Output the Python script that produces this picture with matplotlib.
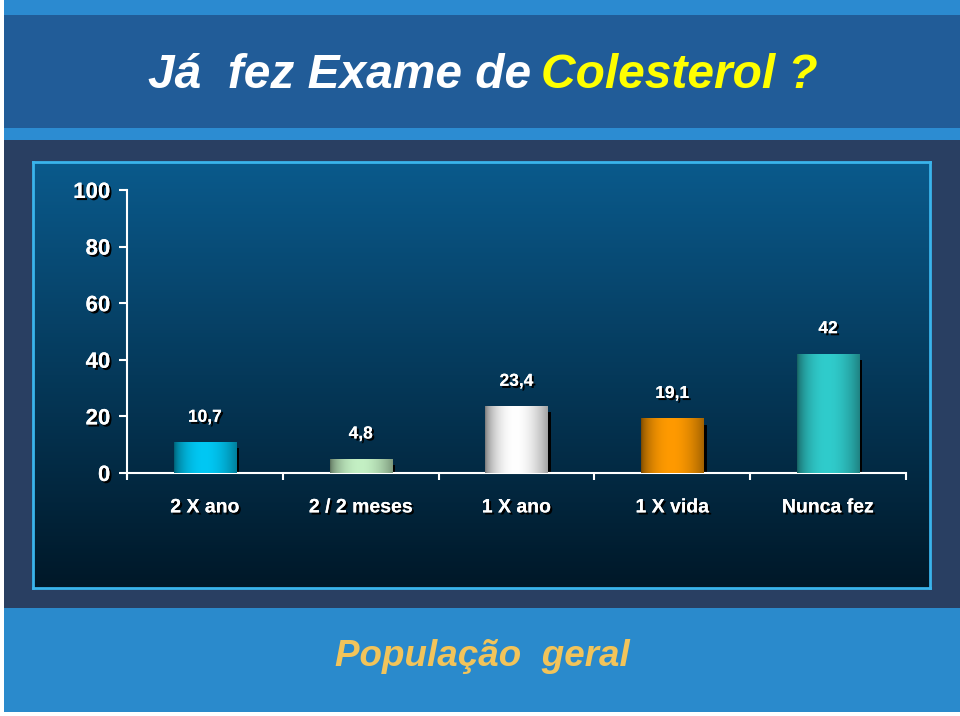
import numpy as np
import matplotlib.pyplot as plt
import matplotlib.patheffects as pe
from matplotlib.colors import to_rgb
from matplotlib.patches import Rectangle

categorias = ["2 X ano", "2 / 2 meses", "1 X ano", "1 X vida", "Nunca fez"]
valores = [10.7, 4.8, 23.4, 19.1, 42]
rotulos = ["10,7", "4,8", "23,4", "19,1", "42"]
cores = ["#00c8f4", "#c4f0c4", "#ffffff", "#ff9a00", "#30cccc"]
yticks = [0, 20, 40, 60, 80, 100]

W, H = 960, 716
fig = plt.figure(figsize=(W / 100, H / 100), dpi=100)
fig.patch.set_facecolor("white")

def fr(x0, y0, x1, y1, color):
    # rectangle in pixel coords (top-left origin), behind the axes
    r = Rectangle((x0 / W, 1 - y1 / H), (x1 - x0) / W, (y1 - y0) / H,
                  transform=fig.transFigure, facecolor=color, edgecolor="none", zorder=-10)
    fig.patches.append(r)
    return r

# slide background
fr(4, 0, 960, 712, "#293f62")
fr(4, 0, 960, 15, "#2b8ad0")
fr(4, 15, 960, 128, "#215c98")
fr(4, 128, 960, 140, "#2c8cd2")
fr(4, 608, 960, 712, "#2a8acc")

# chart panel with vertical gradient
bg = fig.add_axes([33 / W, 1 - 588 / H, (930 - 33) / W, (588 - 162) / H])
top = np.array(to_rgb("#0a5a8c"))
bot = np.array(to_rgb("#001828"))
t = np.linspace(0, 1, 256)[:, None]
grad = top[None, :] * (1 - t) + bot[None, :] * t
bg.imshow(grad[:, None, :], aspect="auto", extent=[0, 1, 0, 1])
bg.set_xticks([])
bg.set_yticks([])
for s in bg.spines.values():
    s.set_color("#3ab4ec")
    s.set_linewidth(2)

fig.text(148 / W, 1 - 75 / H, "Já  fez Exame de", color="white", fontsize=34.5,
         fontweight="bold", fontstyle="italic", family="Liberation Sans",
         va="center", ha="left")
fig.text(541 / W, 1 - 75 / H, "Colesterol ?", color="#ffff00", fontsize=34.5,
         fontweight="bold", fontstyle="italic", family="Liberation Sans",
         va="center", ha="left")
fig.text(482 / W, 1 - 656 / H, "População  geral", color="#f2c45a", fontsize=26.5,
         fontweight="bold", fontstyle="italic", family="Liberation Sans",
         va="center", ha="center")

shadow = [pe.withSimplePatchShadow(offset=(1.5, -1.5), shadow_rgbFace="black", alpha=1.0), pe.Normal()]

ax = fig.add_axes([127 / W, 1 - 473 / H, (906 - 127) / W, (473 - 190) / H])
ax.patch.set_alpha(0)
x = np.arange(len(categorias))
bars = ax.bar(x, valores, width=0.4, color="none", edgecolor="none")

# cylinder shading profile
u = np.linspace(0, 1, 200)
prof = 0.45 + 0.55 * np.clip(np.sin(np.pi * np.clip(u * 0.92, 0, 1) ** 0.85), 0, 1) ** 0.7
for b, c in zip(bars, cores):
    bx, bw, bh = b.get_x(), b.get_width(), b.get_height()
    # dark drop shadow on right
    ax.add_patch(Rectangle((bx + bw, -0.8), bw * 0.05, bh - 1.2, facecolor="black",
                           edgecolor="none", zorder=2))
    rgb = np.array(to_rgb(c))
    img = prof[:, None] * rgb[None, :]
    ax.imshow(img[None, :, :], aspect="auto", extent=[bx, bx + bw, 0, bh], zorder=3)

ax.set_xlim(-0.5, len(categorias) - 0.5)
ax.set_ylim(0, 100)

for xi, v, lab in zip(x, valores, rotulos):
    ax.text(xi, v + 9, lab, ha="center", va="center", color="white", fontsize=12.5,
            fontweight="bold", family=["Liberation Sans Narrow", "Liberation Sans"],
            path_effects=shadow)

for s in ["top", "right"]:
    ax.spines[s].set_visible(False)
ax.spines["left"].set_color("white")
ax.spines["bottom"].set_color("white")
ax.spines["left"].set_linewidth(1.5)
ax.spines["bottom"].set_linewidth(1.5)
ax.spines["left"].set_bounds(-1.5, 100)

ax.set_yticks(yticks)
ax.set_yticklabels([str(v) for v in yticks], fontsize=16, fontweight="bold",
                   family="Liberation Sans", color="white")
for lbl in ax.get_yticklabels():
    lbl.set_path_effects(shadow)
ax.tick_params(axis="y", colors="white", length=6, width=1.5, pad=6)

ax.set_xticks(x)
ax.set_xticklabels(categorias, fontsize=14, fontweight="bold",
                   family=["Liberation Sans Narrow", "Liberation Sans"], color="white")
for lbl in ax.get_xticklabels():
    lbl.set_path_effects(shadow)
ax.tick_params(axis="x", which="major", length=0, pad=19)
ax.set_xticks(np.arange(-0.5, len(categorias)), minor=True)
ax.tick_params(axis="x", which="minor", colors="white", length=5, width=1.5)

fig.savefig("out.png", dpi=100, facecolor=fig.get_facecolor())
